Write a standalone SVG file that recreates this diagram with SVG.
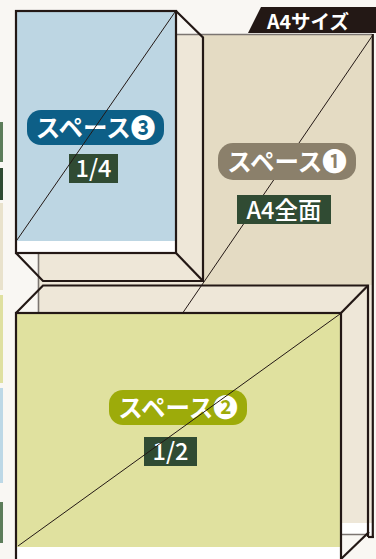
<svg xmlns="http://www.w3.org/2000/svg" width="376" height="559" viewBox="0 0 376 559">
  <style>
    .edge{stroke:#231815;stroke-width:2.2;fill:none;stroke-linejoin:miter}
    .gray{stroke:#7b7571;stroke-width:1.6;fill:none}
    .diag{stroke:#231815;stroke-width:1;fill:none}
    .pill-t{font-family:"Noto Sans CJK JP","DejaVu Sans",sans-serif;font-weight:700;font-size:24.5px;fill:#ffffff;text-anchor:middle}
    .sub-t{font-family:"Noto Sans CJK JP","DejaVu Sans",sans-serif;font-weight:500;font-size:23.5px;fill:#ffffff;text-anchor:middle}
    .sub-bg{fill:#304b33}
  </style>
  <rect x="0" y="0" width="376" height="559" fill="#f9f7f3"/>
  <g id="left-strips">
    <rect x="0" y="122" width="3" height="40" fill="#5d7d5a"/>
    <rect x="0" y="168" width="3" height="32" fill="#2f4a31"/>
    <rect x="0" y="203" width="3" height="87" fill="#e9e2cc"/>
    <rect x="0" y="295" width="3" height="88" fill="#dfe0a0"/>
    <rect x="0" y="388" width="3" height="95" fill="#bdd8e6"/>
    <rect x="0" y="502" width="3" height="41" fill="#5d7d5a"/>
  </g>
  <g id="a4-panel">
    <rect x="38" y="34" width="335" height="500" fill="#ffffff"/>
    <rect x="38" y="34" width="335" height="489" fill="#eee7d8"/>
    <rect x="203" y="35" width="170" height="250" fill="#e4dbc3"/>
    <polyline class="gray" points="38.5,534.5 38.5,34.5 372,34.5"/>
    <line class="gray" x1="38" y1="534.5" x2="368" y2="534.5"/>
    <line class="edge" x1="372.8" y1="34" x2="372.8" y2="538"/>
    <line class="edge" x1="368" y1="537" x2="373.9" y2="537"/>
  </g>
  <g id="tab-a4">
    <polygon points="248,33 261,7 376,7 376,33" fill="#231815"/>
    <text x="308" y="28.5" style="font-family:'Noto Sans CJK JP','DejaVu Sans',sans-serif;font-weight:700;font-size:19.5px;fill:#ffffff;text-anchor:middle">A4サイズ</text>
  </g>
  <g id="space1">
    <line class="diag" x1="372.5" y1="35.5" x2="182" y2="314"/>
    <rect x="218" y="143" width="138" height="37" rx="15" fill="#8b806b"/>
    <text class="pill-t" x="287" y="170.5">スペース❶</text>
    <rect class="sub-bg" x="237" y="195" width="94" height="29"/>
    <text class="sub-t" x="284" y="218.5">A4全面</text>
  </g>
  <g id="space3">
    <polyline class="edge" points="176,11 203,37.5 203,281 43,281 16,253"/>
    <line class="edge" x1="176" y1="253" x2="203" y2="281"/>
    <rect x="16" y="11" width="160" height="242" fill="#ffffff"/>
    <rect x="16" y="11" width="160" height="230" fill="#bdd6e3"/>
    <rect class="edge" x="16" y="11" width="160" height="242"/>
    <rect x="27" y="110" width="137" height="35" rx="14" fill="#0d5f87"/>
    <text class="pill-t" x="95.5" y="136.5">スペース❸</text>
    <rect class="sub-bg" x="69" y="154" width="49" height="29"/>
    <text class="sub-t" x="93.5" y="176.5">1/4</text>
    <line class="diag" x1="175" y1="12" x2="17" y2="240"/>
  </g>
  <g id="space2">
    <polyline class="edge" points="16,313 43,285.5 368,285.5 368,537"/>
    <line class="edge" x1="341" y1="313" x2="368" y2="285.5"/>
    <line class="edge" x1="341" y1="559" x2="369" y2="532"/>
    <rect x="16" y="313" width="325" height="250" fill="#ffffff"/>
    <rect x="16" y="313" width="325" height="234" fill="#e0e19f"/>
    <rect class="edge" x="16" y="313" width="325" height="250"/>
    <rect x="109" y="390" width="138" height="35" rx="14" fill="#9dab0a"/>
    <text class="pill-t" x="178" y="416.5">スペース❷</text>
    <rect class="sub-bg" x="144" y="437" width="53" height="29"/>
    <text class="sub-t" x="170.5" y="459.5">1/2</text>
    <line class="diag" x1="340" y1="314" x2="18" y2="546"/>
  </g>
  <g id="connectors"></g>
</svg>
